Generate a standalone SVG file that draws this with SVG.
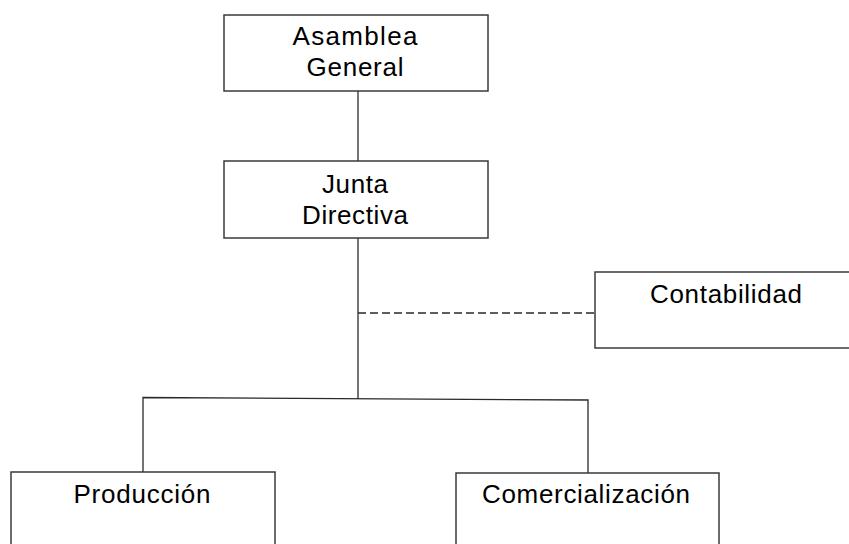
<svg xmlns="http://www.w3.org/2000/svg" width="849" height="544" viewBox="0 0 849 544">
<style>
.box{fill:#fff;stroke:#3a3a3a;stroke-width:1.5}
.ln{fill:none;stroke:#2a2a2a;stroke-width:1.3}
.dash{stroke-dasharray:8 4}
text{font-family:"Liberation Sans",Arial,sans-serif;font-size:26px;fill:#000;text-anchor:middle}
</style>
<rect width="849" height="544" fill="#fff"/>
<g id="connectors">
<line class="ln" x1="358" y1="91" x2="358" y2="161"/>
<line class="ln" x1="358" y1="238" x2="358" y2="399"/>
<line class="ln dash" x1="358" y1="313" x2="595" y2="313"/>
<polyline class="ln" points="143,472 143,397.5 588,400 588,473"/>
</g>
<g id="asamblea">
<rect class="box" x="224" y="15" width="264" height="76"/>
<text x="355" y="45" textLength="125" lengthAdjust="spacing">Asamblea</text>
<text x="355" y="76" textLength="97" lengthAdjust="spacing">General</text>
</g>
<g id="junta">
<rect class="box" x="224" y="161" width="264" height="77"/>
<text x="355" y="193" textLength="66" lengthAdjust="spacing">Junta</text>
<text x="355" y="224" textLength="106" lengthAdjust="spacing">Directiva</text>
</g>
<g id="contabilidad">
<rect class="box" x="595" y="272" width="270" height="76"/>
<text x="726" y="303" textLength="152" lengthAdjust="spacing">Contabilidad</text>
</g>
<g id="produccion">
<rect class="box" x="11" y="472" width="264" height="90"/>
<text x="142" y="503" textLength="137" lengthAdjust="spacing">Producción</text>
</g>
<g id="comercializacion">
<rect class="box" x="456" y="473" width="263" height="90"/>
<text x="586" y="503" textLength="208" lengthAdjust="spacing">Comercialización</text>
</g>
</svg>
